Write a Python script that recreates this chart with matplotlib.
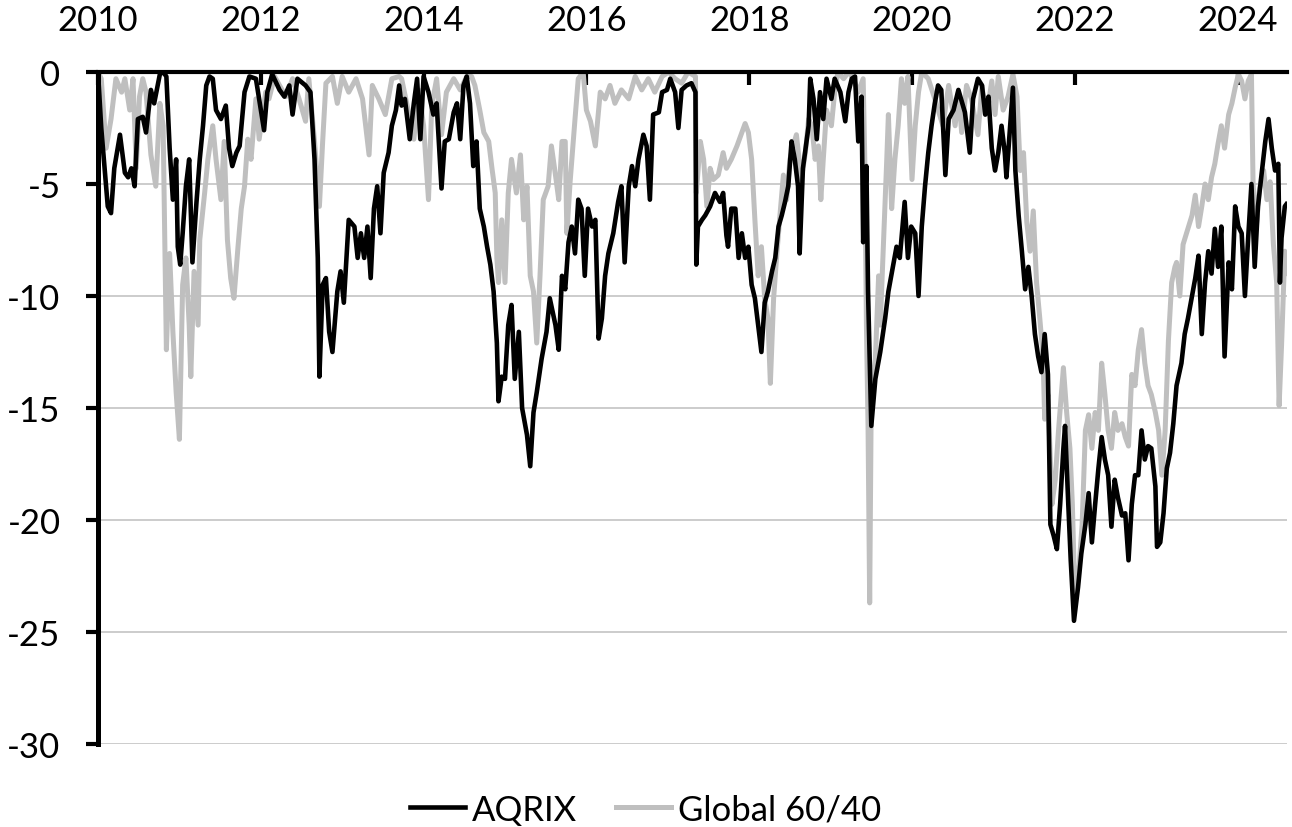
import matplotlib
matplotlib.use("Agg")
from matplotlib import pyplot as plt

plt.rcParams['font.family'] = ['Lato', 'DejaVu Sans']
plt.rcParams['axes.unicode_minus'] = False

# drawdown (%), x in fractional years
aqrix_years = [
    2010.00, 2010.04, 2010.12, 2010.16, 2010.20, 2010.27, 2010.33, 2010.37, 2010.41, 2010.45,
    2010.49, 2010.55, 2010.59, 2010.65, 2010.69, 2010.76, 2010.80, 2010.84, 2010.88, 2010.92,
    2010.96, 2010.98, 2011.01, 2011.04, 2011.08, 2011.12, 2011.16, 2011.21, 2011.25, 2011.29,
    2011.33, 2011.37, 2011.41, 2011.45, 2011.51, 2011.57, 2011.61, 2011.65, 2011.70, 2011.74,
    2011.80, 2011.86, 2011.94, 2012.04, 2012.08, 2012.14, 2012.23, 2012.29, 2012.35, 2012.39,
    2012.45, 2012.55, 2012.61, 2012.66, 2012.70, 2012.72, 2012.76, 2012.80, 2012.84, 2012.88,
    2012.94, 2012.98, 2013.02, 2013.08, 2013.15, 2013.19, 2013.23, 2013.27, 2013.31, 2013.35,
    2013.39, 2013.43, 2013.47, 2013.51, 2013.57, 2013.61, 2013.66, 2013.70, 2013.73, 2013.77,
    2013.83, 2013.88, 2013.92, 2013.96, 2014.00, 2014.06, 2014.12, 2014.16, 2014.22, 2014.26,
    2014.31, 2014.37, 2014.41, 2014.45, 2014.49, 2014.53, 2014.57, 2014.61, 2014.65, 2014.69,
    2014.74, 2014.78, 2014.82, 2014.86, 2014.90, 2014.92, 2014.96, 2015.00, 2015.04, 2015.08,
    2015.12, 2015.17, 2015.21, 2015.27, 2015.31, 2015.35, 2015.39, 2015.45, 2015.51, 2015.55,
    2015.62, 2015.66, 2015.70, 2015.74, 2015.78, 2015.82, 2015.86, 2015.90, 2015.94, 2015.98,
    2016.02, 2016.07, 2016.11, 2016.15, 2016.19, 2016.23, 2016.27, 2016.33, 2016.39, 2016.43,
    2016.47, 2016.52, 2016.56, 2016.60, 2016.64, 2016.70, 2016.74, 2016.78, 2016.82, 2016.89,
    2016.93, 2016.99, 2017.03, 2017.09, 2017.13, 2017.17, 2017.23, 2017.29, 2017.34, 2017.35,
    2017.37, 2017.42, 2017.46, 2017.52, 2017.58, 2017.64, 2017.68, 2017.72, 2017.74, 2017.78,
    2017.83, 2017.87, 2017.91, 2017.95, 2017.99, 2018.03, 2018.07, 2018.11, 2018.15, 2018.19,
    2018.23, 2018.28, 2018.32, 2018.36, 2018.40, 2018.44, 2018.48, 2018.52, 2018.56, 2018.60,
    2018.62, 2018.66, 2018.73, 2018.75, 2018.79, 2018.83, 2018.87, 2018.91, 2018.95, 2019.01,
    2019.05, 2019.12, 2019.18, 2019.22, 2019.26, 2019.30, 2019.34, 2019.38, 2019.40, 2019.44,
    2019.46, 2019.50, 2019.55, 2019.61, 2019.67, 2019.71, 2019.77, 2019.81, 2019.85, 2019.91,
    2019.95, 2019.99, 2020.04, 2020.08, 2020.12, 2020.16, 2020.20, 2020.24, 2020.28, 2020.32,
    2020.36, 2020.41, 2020.45, 2020.51, 2020.57, 2020.65, 2020.71, 2020.75, 2020.81, 2020.86,
    2020.90, 2020.94, 2020.98, 2021.02, 2021.06, 2021.10, 2021.14, 2021.16, 2021.20, 2021.24,
    2021.27, 2021.31, 2021.35, 2021.39, 2021.43, 2021.47, 2021.51, 2021.55, 2021.59, 2021.63,
    2021.67, 2021.70, 2021.74, 2021.78, 2021.82, 2021.86, 2021.88, 2021.92, 2021.95, 2021.99,
    2022.04, 2022.08, 2022.13, 2022.17, 2022.21, 2022.25, 2022.29, 2022.33, 2022.37, 2022.41,
    2022.45, 2022.49, 2022.53, 2022.58, 2022.62, 2022.66, 2022.70, 2022.74, 2022.78, 2022.82,
    2022.86, 2022.90, 2022.94, 2022.99, 2023.01, 2023.05, 2023.09, 2023.13, 2023.17, 2023.21,
    2023.25, 2023.31, 2023.35, 2023.39, 2023.44, 2023.48, 2023.52, 2023.56, 2023.60, 2023.64,
    2023.68, 2023.72, 2023.76, 2023.80, 2023.84, 2023.89, 2023.93, 2023.97, 2024.01, 2024.05,
    2024.09, 2024.13, 2024.17, 2024.21, 2024.25, 2024.30, 2024.34, 2024.38, 2024.42, 2024.46,
    2024.50, 2024.52, 2024.54, 2024.58, 2024.60,
]
aqrix_dd = [
    0.0, -2.5, -6.0, -6.3, -4.3, -2.8, -4.5, -4.7, -4.3, -5.1,
    -2.1, -2.0, -2.7, -0.8, -1.4, -0.1, 0.0, -0.2, -3.4, -5.7,
    -3.9, -7.8, -8.6, -7.2, -5.1, -3.9, -8.5, -5.8, -3.9, -2.4,
    -0.6, -0.2, -0.3, -1.7, -2.1, -1.5, -3.4, -4.2, -3.6, -3.3,
    -0.9, -0.2, -0.3, -2.6, -0.9, -0.1, -0.8, -1.1, -0.6, -1.9,
    -0.3, -0.6, -0.9, -3.9, -8.3, -13.6, -9.5, -9.2, -11.6, -12.5,
    -9.8, -8.9, -10.3, -6.6, -6.9, -8.3, -7.2, -8.3, -6.9, -9.2,
    -6.1, -5.1, -7.2, -4.5, -3.6, -2.4, -1.7, -0.6, -1.5, -1.2,
    -3.0, -1.4, -0.3, -3.0, -0.2, -0.9, -1.9, -1.4, -5.2, -3.1,
    -3.0, -1.8, -1.4, -3.0, -0.6, -0.2, -1.4, -4.2, -3.1, -6.1,
    -6.9, -7.8, -8.6, -9.8, -12.1, -14.7, -13.6, -13.7, -11.3, -10.4,
    -13.7, -11.6, -15.0, -16.2, -17.6, -15.2, -14.3, -12.8, -11.6, -10.1,
    -11.3, -12.4, -9.1, -9.7, -7.6, -6.9, -8.1, -5.7, -6.1, -9.1,
    -6.1, -6.9, -6.6, -11.9, -11.0, -9.1, -8.1, -7.2, -5.8, -5.1,
    -8.5, -5.1, -4.2, -5.1, -3.9, -2.8, -3.3, -5.7, -1.9, -1.8,
    -0.9, -0.8, -0.3, -0.9, -2.5, -0.8, -0.6, -0.5, -0.9, -8.6,
    -6.9, -6.6, -6.4, -6.0, -5.4, -5.8, -5.4, -7.3, -7.8, -6.1,
    -6.1, -8.3, -7.2, -8.3, -7.8, -9.5, -10.1, -11.3, -12.5, -10.3,
    -9.8, -8.9, -8.3, -6.9, -6.4, -5.8, -5.1, -3.1, -3.9, -5.1,
    -8.1, -4.3, -2.4, -0.3, -1.2, -3.0, -0.9, -2.1, -0.3, -1.2,
    -0.3, -0.9, -2.2, -0.9, -0.3, -0.2, -3.1, -1.1, -7.6, -4.2,
    -9.8, -15.8, -13.7, -12.5, -11.0, -9.8, -8.6, -7.8, -8.3, -5.8,
    -8.3, -6.9, -7.2, -10.0, -6.9, -5.1, -3.6, -2.4, -1.4, -0.6,
    -0.8, -4.6, -2.1, -1.7, -0.8, -1.8, -3.6, -1.2, -0.3, -0.6,
    -1.9, -1.1, -3.4, -4.4, -3.6, -2.4, -3.6, -4.7, -2.7, -0.7,
    -4.4, -6.4, -8.0, -9.7, -8.7, -10.0, -11.7, -12.7, -13.4, -11.7,
    -13.5, -20.2, -20.7, -21.3, -19.3, -16.8, -15.8, -19.3, -21.8, -24.5,
    -23.0, -21.5, -20.2, -18.8, -21.0, -19.3, -17.7, -16.3, -17.3, -18.0,
    -20.3, -18.2, -19.0, -19.8, -19.7, -21.8, -19.3, -18.0, -18.0, -16.0,
    -17.3, -16.7, -16.8, -18.5, -21.2, -21.0, -19.7, -17.7, -17.0, -15.7,
    -14.0, -13.0, -11.7, -11.0, -10.0, -9.2, -8.2, -11.7, -9.4, -8.0,
    -9.0, -7.0, -8.7, -6.9, -12.7, -8.5, -9.7, -6.0, -6.9, -7.2,
    -10.0, -7.4, -5.0, -8.7, -6.0, -4.4, -3.1, -2.1, -3.4, -4.4,
    -4.1, -9.4, -7.4, -6.0, -5.9,
]

global_years = [
    2010.00, 2010.04, 2010.10, 2010.16, 2010.22, 2010.29, 2010.33, 2010.39, 2010.43, 2010.47,
    2010.51, 2010.55, 2010.59, 2010.65, 2010.71, 2010.76, 2010.80, 2010.84, 2010.88, 2010.92,
    2010.96, 2011.00, 2011.04, 2011.08, 2011.12, 2011.14, 2011.18, 2011.23, 2011.25, 2011.31,
    2011.35, 2011.41, 2011.45, 2011.51, 2011.55, 2011.59, 2011.63, 2011.67, 2011.72, 2011.76,
    2011.80, 2011.84, 2011.88, 2011.94, 2011.98, 2012.02, 2012.06, 2012.10, 2012.17, 2012.23,
    2012.31, 2012.39, 2012.47, 2012.55, 2012.59, 2012.66, 2012.72, 2012.76, 2012.80, 2012.88,
    2012.94, 2013.00, 2013.08, 2013.17, 2013.25, 2013.33, 2013.37, 2013.45, 2013.53, 2013.61,
    2013.70, 2013.73, 2013.81, 2013.88, 2013.94, 2014.00, 2014.06, 2014.10, 2014.16, 2014.22,
    2014.28, 2014.37, 2014.45, 2014.53, 2014.59, 2014.63, 2014.69, 2014.74, 2014.80, 2014.84,
    2014.88, 2014.90, 2014.92, 2014.96, 2015.00, 2015.04, 2015.08, 2015.14, 2015.19, 2015.23,
    2015.27, 2015.31, 2015.35, 2015.39, 2015.43, 2015.47, 2015.53, 2015.57, 2015.62, 2015.66,
    2015.70, 2015.74, 2015.76, 2015.80, 2015.86, 2015.90, 2015.96, 2016.00, 2016.05, 2016.11,
    2016.17, 2016.23, 2016.29, 2016.35, 2016.43, 2016.52, 2016.60, 2016.68, 2016.76, 2016.84,
    2016.93, 2017.01, 2017.09, 2017.17, 2017.25, 2017.34, 2017.35, 2017.40, 2017.44, 2017.48,
    2017.52, 2017.56, 2017.62, 2017.68, 2017.72, 2017.78, 2017.85, 2017.91, 2017.95, 2017.99,
    2018.03, 2018.07, 2018.11, 2018.15, 2018.19, 2018.23, 2018.26, 2018.30, 2018.34, 2018.38,
    2018.42, 2018.46, 2018.50, 2018.54, 2018.58, 2018.64, 2018.69, 2018.73, 2018.77, 2018.81,
    2018.85, 2018.88, 2018.91, 2018.95, 2019.01, 2019.05, 2019.09, 2019.16, 2019.22, 2019.28,
    2019.34, 2019.40, 2019.42, 2019.44, 2019.46, 2019.48, 2019.50, 2019.55, 2019.59, 2019.61,
    2019.65, 2019.69, 2019.71, 2019.75, 2019.79, 2019.83, 2019.87, 2019.91, 2019.95, 2020.00,
    2020.04, 2020.08, 2020.12, 2020.20, 2020.28, 2020.38, 2020.45, 2020.53, 2020.57, 2020.61,
    2020.67, 2020.73, 2020.81, 2020.86, 2020.90, 2020.94, 2020.98, 2021.02, 2021.06, 2021.12,
    2021.18, 2021.24, 2021.29, 2021.33, 2021.37, 2021.41, 2021.45, 2021.49, 2021.53, 2021.57,
    2021.61, 2021.63, 2021.67, 2021.72, 2021.76, 2021.80, 2021.86, 2021.90, 2021.94, 2021.97,
    2022.00, 2022.04, 2022.09, 2022.13, 2022.17, 2022.21, 2022.25, 2022.29, 2022.33, 2022.37,
    2022.41, 2022.45, 2022.49, 2022.53, 2022.58, 2022.62, 2022.66, 2022.70, 2022.74, 2022.78,
    2022.82, 2022.86, 2022.90, 2022.94, 2022.99, 2023.03, 2023.07, 2023.11, 2023.15, 2023.19,
    2023.23, 2023.25, 2023.29, 2023.33, 2023.39, 2023.44, 2023.48, 2023.52, 2023.56, 2023.60,
    2023.64, 2023.68, 2023.72, 2023.76, 2023.80, 2023.84, 2023.89, 2023.93, 2023.97, 2024.01,
    2024.05, 2024.09, 2024.13, 2024.17, 2024.19, 2024.23, 2024.27, 2024.32, 2024.36, 2024.40,
    2024.44, 2024.48, 2024.51, 2024.54, 2024.58, 2024.60,
]
global_dd = [
    0.0, -0.3, -3.4, -2.1, -0.3, -0.9, -0.3, -1.7, -0.3, -4.3,
    -1.1, -0.3, -0.9, -3.7, -5.1, -1.4, -2.4, -12.4, -8.1, -11.6,
    -14.3, -16.4, -9.5, -8.3, -11.3, -13.6, -8.9, -11.3, -7.5, -5.4,
    -3.9, -2.4, -3.9, -5.7, -3.1, -7.5, -9.2, -10.1, -7.8, -6.1,
    -5.1, -3.0, -3.9, -1.2, -3.0, -1.9, -0.9, -1.2, -0.2, -0.6,
    -1.1, -0.3, -1.2, -2.2, -0.3, -3.1, -6.0, -3.1, -0.5, -0.2,
    -1.4, -0.2, -0.9, -0.3, -1.2, -3.7, -0.6, -1.2, -1.9, -0.3,
    -0.2, -0.3, -1.7, -3.0, -0.8, -2.4, -5.7, -1.5, -0.3, -2.8,
    -0.9, -0.3, -0.8, -0.2, -0.2, -0.6, -1.7, -2.7, -3.1, -4.3,
    -5.4, -8.3, -9.4, -6.6, -9.4, -5.4, -3.9, -5.4, -3.7, -6.6,
    -5.1, -9.1, -9.8, -12.1, -9.1, -5.7, -5.1, -3.3, -4.6, -5.7,
    -3.1, -3.1, -7.2, -4.9, -2.1, -0.3, 0.0, -1.7, -2.2, -3.3,
    -0.9, -1.2, -0.6, -1.4, -0.8, -1.2, -0.2, -0.8, -0.3, -0.9,
    -0.2, 0.0, -0.3, -0.5, 0.0, -0.2, -5.4, -3.1, -3.9, -6.0,
    -4.3, -4.8, -4.6, -3.6, -4.3, -3.9, -3.3, -2.7, -2.3, -2.7,
    -3.9, -6.6, -9.1, -7.8, -10.1, -11.0, -13.9, -10.1, -8.1, -6.3,
    -4.6, -5.7, -3.9, -3.3, -2.8, -4.8, -3.6, -2.1, -2.4, -3.9,
    -3.3, -5.7, -3.9, -1.7, -2.4, -0.9, 0.0, -0.3, 0.0, -0.3,
    -0.9, -0.3, -3.9, -11.3, -15.8, -23.7, -14.3, -12.8, -9.1, -11.3,
    -7.6, -3.9, -1.9, -6.1, -3.9, -2.4, -0.3, -1.4, -0.2, -4.8,
    -2.4, -0.9, 0.0, -0.3, -1.2, -2.4, -0.6, -2.4, -0.9, -2.7,
    -0.6, -1.2, -2.8, -0.6, -1.9, -1.4, -0.4, -1.9, -0.2, -1.7,
    -1.1, -0.1, -1.1, -4.4, -3.6, -6.7, -8.0, -6.2, -9.4, -11.0,
    -12.7, -15.5, -14.4, -19.3, -18.2, -16.0, -13.2, -15.2, -16.8, -19.3,
    -23.3, -22.7, -20.2, -16.0, -15.3, -16.8, -15.2, -16.0, -13.0, -14.4,
    -16.0, -16.8, -15.2, -16.0, -15.7, -16.3, -16.7, -13.5, -14.0, -12.4,
    -11.5, -13.0, -14.0, -14.4, -15.2, -16.0, -18.0, -16.0, -12.0, -9.4,
    -8.7, -8.5, -10.0, -7.7, -7.0, -6.4, -5.5, -6.9, -6.0, -5.0,
    -5.7, -4.7, -4.1, -3.2, -2.4, -3.4, -1.9, -1.4, -0.7, -0.1,
    -0.4, -1.2, -0.4, -0.1, -5.0, -6.9, -5.2, -4.4, -5.7, -4.9,
    -7.7, -9.4, -14.9, -12.2, -8.0, -9.0,
]

year_ticks = [2010, 2012, 2014, 2016, 2018, 2020, 2022, 2024]
dd_ticks = [0, -5, -10, -15, -20, -25, -30]

fig = plt.figure(figsize=(12.92, 8.28), dpi=100)
ax = fig.add_axes([98 / 1292, 83 / 828, 1189 / 1292, 672 / 828])

ax.plot(global_years, global_dd, color='#BFBFBF', lw=3.6, label='Global 60/40', zorder=2)
ax.plot(aqrix_years, aqrix_dd, color='black', lw=3.3, label='AQRIX', zorder=3)

ax.set_xlim(2010, 2010 + 1189 / 81.4)
ax.set_ylim(-30, 0)

ax.set_yticks(dd_ticks)
ax.set_yticklabels([str(v) for v in dd_ticks])
ax.yaxis.grid(True, color='#C4C4C4', lw=1.2)
ax.set_axisbelow(True)

ax.xaxis.tick_top()
ax.set_xticks(year_ticks)
ax.set_xticklabels([str(y) for y in year_ticks])

ax.tick_params(axis='x', direction='in', length=9, width=3, pad=26, labelsize=25, color='black')
ax.tick_params(axis='y', direction='out', length=9, width=3, pad=18, labelsize=25, color='black')

for s in ['right', 'bottom']:
    ax.spines[s].set_visible(False)
ax.spines['left'].set_linewidth(3.6)
ax.spines['top'].set_linewidth(3.0)
ax.spines['top'].set_zorder(5)

handles, labels = ax.get_legend_handles_labels()
fig.legend(handles[::-1], labels[::-1], loc='center', bbox_to_anchor=(0.4996, 0.021),
           ncol=2, frameon=False, fontsize=25, handlelength=1.6, handletextpad=0.2,
           columnspacing=1.1)

fig.savefig('out.png', dpi=100)
